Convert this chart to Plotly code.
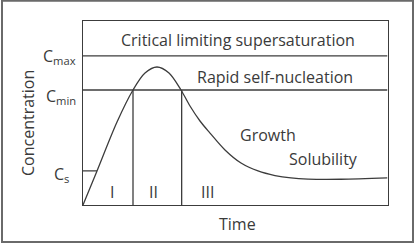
import plotly.graph_objects as go

W, H = 416, 244
# data units: time 0..100, concentration 0..100
curve_t = [0, 4.6, 11.17, 16.42, 20.36, 24.3, 28.24, 32.18, 35.14, 38.42, 41.71, 46.63, 51.89, 57.47, 63.05, 68.3, 73.9, 84.7, 100]
curve_c = [0, 18.5, 45.1, 62.5, 71.7, 75.0, 71.7, 62.5, 53.8, 45.65, 39.1, 29.9, 22.8, 18.5, 16.0, 14.7, 14.1, 14.0, 14.7]

c_max, c_min, c_s = 81.0, 62.5, 18.5
stage_bounds = [16.42, 32.4]
stage_labels = ["I", "II", "III"]
stage_pos = [9.5, 23.3, 40.9]
level_labels = ["C<sub>max</sub>", "C<sub>min</sub>", "C<sub>s</sub>"]
region_texts = ["Critical limiting supersaturation", "Rapid self-nucleation", "Growth", "Solubility"]

LC = "#3c3c3c"
TC = "#3a3a3a"
FONT = "Open Sans"
FS = 16

fig = go.Figure()
fig.add_trace(go.Scatter(x=curve_t, y=curve_c, mode="lines",
                         line=dict(color=LC, width=1.3, shape="spline", smoothing=0.9),
                         hoverinfo="skip", showlegend=False))

shapes = []
for lvl in (c_max, c_min):
    shapes.append(dict(type="line", xref="x", yref="y", x0=0, x1=100, y0=lvl, y1=lvl,
                       line=dict(color=LC, width=1.3)))
shapes.append(dict(type="line", xref="x", yref="y", x0=0, x1=4.6, y0=c_s, y1=c_s,
                   line=dict(color=LC, width=1.3)))
for b in stage_bounds:
    shapes.append(dict(type="line", xref="x", yref="y", x0=b, x1=b, y0=0, y1=c_min,
                       line=dict(color=LC, width=1.3)))
# outer frame
shapes.append(dict(type="rect", xref="paper", yref="paper",
                   x0=2 / W, x1=413 / W, y0=1 - 242 / H, y1=1 - 0.8 / H,
                   line=dict(color="#6a6a6a", width=2)))

ann = []
def txt(x, y, s, size=FS, xanchor="center", xref="x", yref="y", angle=0):
    ann.append(dict(x=x, y=y, text=s, showarrow=False, xref=xref, yref=yref,
                    xanchor=xanchor, yanchor="middle", textangle=angle,
                    font=dict(family=FONT, size=size, color=TC)))

txt(50.9, 89.7, region_texts[0])
txt(63.2, 69.6, region_texts[1])
txt(60.8, 38.0, region_texts[2])
txt(79.1, 25.0, region_texts[3])
txt(78 / W, 1 - 57 / H, level_labels[0], xanchor="right", xref="paper", yref="paper")
txt(78 / W, 1 - 97 / H, level_labels[1], xanchor="right", xref="paper", yref="paper")
txt(71 / W, 1 - 174 / H, level_labels[2], xanchor="right", xref="paper", yref="paper")
for p, s in zip(stage_pos, stage_labels):
    txt(p, 6.8, s)
txt(237 / W, 1 - 224 / H, "Time", xref="paper", yref="paper")
txt(28 / W, 1 - 123 / H, "Concentration", xref="paper", yref="paper", angle=-90)

fig.update_layout(
    width=W, height=H, margin=dict(l=0, r=0, t=0, b=0),
    paper_bgcolor="white", plot_bgcolor="white",
    shapes=shapes, annotations=ann,
    xaxis=dict(domain=[83 / W, 387.5 / W], range=[0, 100], showgrid=False, zeroline=False,
               showticklabels=False, ticks="", showline=True, mirror=True, linecolor=LC, linewidth=1.3),
    yaxis=dict(domain=[1 - 205 / H, 1 - 21 / H], range=[0, 100], showgrid=False, zeroline=False,
               showticklabels=False, ticks="", showline=True, mirror=True, linecolor=LC, linewidth=1.3),
)
fig.write_html("out.html")
